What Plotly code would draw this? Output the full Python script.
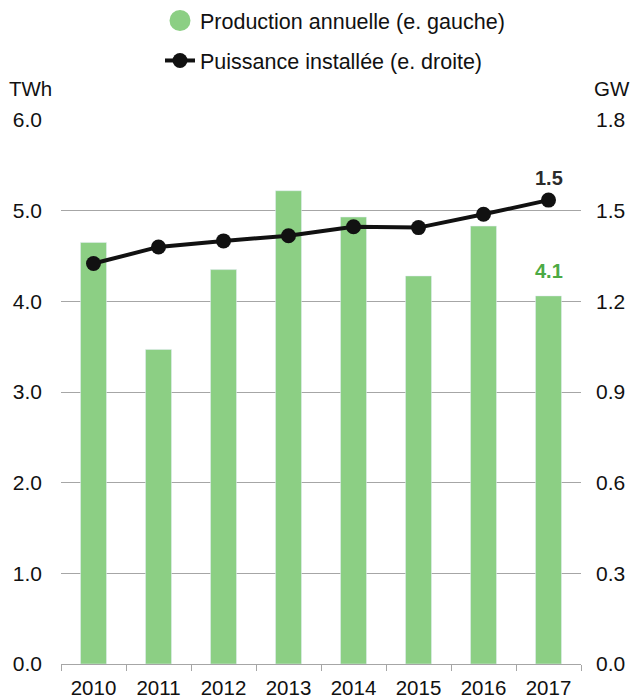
import plotly.graph_objects as go

years = ["2010", "2011", "2012", "2013", "2014", "2015", "2016", "2017"]
production_twh = [4.65, 3.47, 4.35, 5.22, 4.93, 4.28, 4.83, 4.06]
capacity_gw = [1.325, 1.380, 1.400, 1.417, 1.447, 1.444, 1.488, 1.535]
left_ticks = [0, 1, 2, 3, 4, 5, 6]
right_ticks = [0, 0.3, 0.6, 0.9, 1.2, 1.5, 1.8]

FONT = "Liberation Sans, Arial, sans-serif"
GREEN = "#8ccf84"
GREEN_TXT = "#4caa44"
GRID = "#a6a6a6"

# page has an 8px body margin, so the figure is drawn 8px in from the top-left
W, H = 630, 690
L, R, T, B = 53, 57, 112, 34
PH = H - T - B  # plot height in px

last = len(years) - 1  # category index of the last year

fig = go.Figure()
fig.add_trace(go.Bar(
    x=years, y=production_twh, marker_color=GREEN, width=0.4,
    showlegend=False, yaxis="y",
))
# legend entry with circle symbol for production
fig.add_trace(go.Scatter(
    x=[None], y=[None], mode="markers",
    marker=dict(color=GREEN, size=16, symbol="circle", line=dict(color=GREEN, width=5)),
    name="Production annuelle (e. gauche)", legend="legend", yaxis="y",
))
fig.add_trace(go.Scatter(
    x=years, y=capacity_gw, mode="lines+markers", yaxis="y2",
    line=dict(color="#111111", width=4), marker=dict(color="#111111", size=15),
    name="Puissance installée (e. droite)", legend="legend2",
))

fig.update_layout(
    width=W, height=H,
    margin=dict(l=L, r=R, t=T, b=B, autoexpand=False),
    paper_bgcolor="white", plot_bgcolor="white",
    font=dict(family=FONT, size=21, color="#111111"),
    bargap=0.6,
    xaxis=dict(
        type="category", categoryorder="array", categoryarray=years,
        range=[-0.5, last + 0.5],
        showgrid=False, showline=True, linecolor=GRID, linewidth=1,
        ticks="outside", tickson="boundaries", ticklen=6, tickcolor=GRID,
        tickfont=dict(size=20.5), ticklabelstandoff=5,
    ),
    yaxis=dict(
        range=[0, 6], tickvals=left_ticks, tickformat=".1f",
        showgrid=True, gridcolor=GRID, gridwidth=1, zeroline=False,
        showline=False, tickfont=dict(size=21), ticklabelstandoff=18,
    ),
    yaxis2=dict(
        range=[0, 1.8], tickvals=right_ticks, tickformat=".1f",
        overlaying="y", side="right", showgrid=False, zeroline=False,
        showline=False, tickfont=dict(size=21), ticklabelstandoff=14,
    ),
    legend=dict(
        xref="container", yref="paper", x=152 / W, y=1 + (T + 8) / PH,
        xanchor="left", yanchor="top", font=dict(size=21.5),
        bgcolor="rgba(0,0,0,0)",
    ),
    legend2=dict(
        xref="container", yref="paper", x=152 / W, y=1 + (T - 32) / PH,
        xanchor="left", yanchor="top", font=dict(size=21.5),
        bgcolor="rgba(0,0,0,0)",
    ),
    annotations=[
        dict(text="TWh", xref="paper", yref="paper", x=0, y=1, xshift=-54, yshift=18,
             xanchor="left", yanchor="bottom", showarrow=False, font=dict(size=20.5)),
        dict(text="GW", xref="paper", yref="paper", x=1, y=1, xshift=51, yshift=18,
             xanchor="right", yanchor="bottom", showarrow=False, font=dict(size=20.5)),
        dict(text=f"{production_twh[-1]:.1f}", x=last, y=production_twh[-1],
             xref="x", yref="y", yshift=25, xanchor="center", yanchor="middle",
             showarrow=False, font=dict(size=20, color=GREEN_TXT, weight="bold")),
        dict(text=f"{capacity_gw[-1]:.1f}", x=last, y=capacity_gw[-1],
             xref="x", yref="y2", yshift=22, xanchor="center", yanchor="middle",
             showarrow=False, font=dict(size=20, color="#2b2b2b", weight="bold")),
    ],
)

fig.write_html("out.html")
